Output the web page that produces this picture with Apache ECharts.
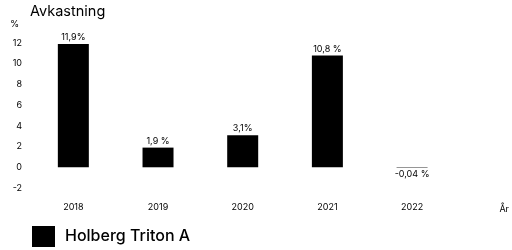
<!DOCTYPE html>
<html>
<head>
<meta charset="utf-8">
<script src="https://cdn.jsdelivr.net/npm/echarts@6/dist/echarts.min.js"></script>
<style>
  html, body { margin: 0; padding: 0; background: #fff; }
  #chart { width: 512px; height: 250px; }
</style>
</head>
<body>
<div id="chart"></div>
<script>
const years = ['2018', '2019', '2020', '2021', '2022'];
const returns = [11.9, 1.9, 3.1, 10.8, -0.04];
const returnLabels = ['11,9%', '1,9 %', '3,1%', '10,8 %', '-0,04 %'];
const seriesName = 'Holberg Triton A';

const chart = echarts.init(document.getElementById('chart'));
const font = 'Inter, "Noto Sans", sans-serif';

chart.setOption({
  animation: false,
  textStyle: { fontFamily: font, color: '#000' },
  title: {
    text: 'Avkastning',
    left: 30,
    top: 4,
    padding: 0,
    textStyle: { fontSize: 14.5, fontWeight: 'normal', color: '#000', fontFamily: font }
  },
  legend: {
    left: 32,
    top: 226,
    padding: 0,
    icon: 'rect',
    itemWidth: 23,
    itemHeight: 21,
    itemGap: 10,
    textStyle: { fontSize: 16, color: '#000', fontFamily: font, fontWeight: 500, padding: [0, 0, 0, 5] },
    data: [seriesName]
  },
  grid: { left: 31, right: 57, top: 43, bottom: 62 },
  xAxis: {
    type: 'category',
    data: years,
    name: 'År',
    nameLocation: 'end',
    nameGap: 45,
    nameTextStyle: { fontSize: 9, color: '#000', verticalAlign: 'top', padding: [38, 0, 0, 0] },
    axisLine: { show: false },
    axisTick: { show: false },
    axisLabel: { fontSize: 9, color: '#000', margin: 15 }
  },
  yAxis: {
    type: 'value',
    min: -2,
    max: 12,
    interval: 2,
    name: '%',
    nameLocation: 'end',
    nameGap: 14,
    nameTextStyle: { fontSize: 9, color: '#000', align: 'right', padding: [0, 12, 0, 0] },
    axisLine: { show: false },
    axisTick: { show: false },
    splitLine: { show: false },
    axisLabel: { fontSize: 9, color: '#000', margin: 9 }
  },
  series: [{
    name: seriesName,
    type: 'bar',
    barWidth: 31,
    itemStyle: { color: '#000' },
    data: returns.map((v, i) => ({
      value: v,
      label: { position: v < 0 ? 'bottom' : 'top' }
    })),
    label: {
      show: true,
      fontSize: 9,
      color: '#000',
      distance: 2,
      formatter: p => returnLabels[p.dataIndex]
    }
  }]
});
</script>
</body>
</html>
